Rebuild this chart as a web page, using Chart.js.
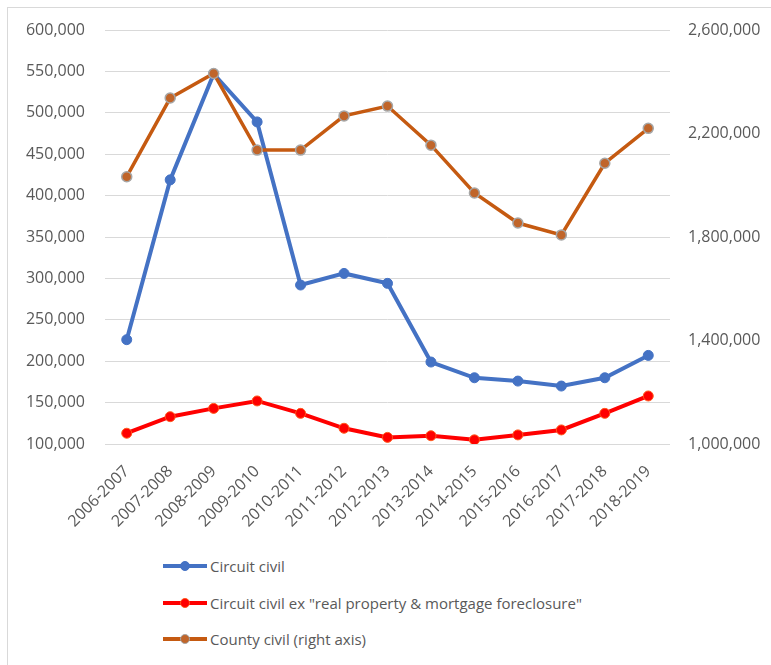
<!DOCTYPE html>
<html>
<head>
<meta charset="utf-8">
<script src="https://cdn.jsdelivr.net/npm/chart.js@4/dist/chart.umd.min.js"></script>
<style>
  html, body { margin: 0; padding: 0; background: #fff; }
  #wrap { position: relative; width: 771px; height: 665px; overflow: hidden; font-family: "Open Sans", sans-serif; }
  #frame { position: absolute; left: 7px; top: 7px; width: 800px; height: 700px; border: 1px solid #d9d9d9; box-sizing: border-box; }
  #c { position: absolute; left: 0; top: 0; }
  #legend { position: absolute; left: 163px; top: 548px; }
  .item { height: 36.5px; display: flex; align-items: center; color: #595959; font-size: 15px; }
  .mk { position: relative; width: 44px; height: 14px; margin-right: 3px; }
  .mk .ln { position: absolute; left: 0; right: 0; top: 5px; height: 4px; }
  .mk .dt { position: absolute; left: 17px; top: 2px; width: 10px; height: 10px; border-radius: 50%; box-sizing: border-box; }
</style>
</head>
<body>
<div id="wrap">
  <div id="frame"></div>
  <canvas id="c" width="771" height="545"></canvas>
  <div id="legend"></div>
</div>
<script>
const categories = ["2006-2007","2007-2008","2008-2009","2009-2010","2010-2011","2011-2012","2012-2013","2013-2014","2014-2015","2015-2016","2016-2017","2017-2018","2018-2019"];
const circuitCivil = [226000, 419000, 547000, 489000, 292000, 306000, 294000, 199000, 180000, 176000, 170000, 180000, 207000];
const circuitCivilEx = [113000, 133000, 143000, 152000, 137000, 119000, 108000, 110000, 105000, 111000, 117000, 137000, 158000];
const countyCivil = [2033000, 2337000, 2432000, 2136000, 2136000, 2268000, 2306000, 2155000, 1970000, 1854000, 1808000, 2085000, 2220000];
const seriesNames = ["Circuit civil", "Circuit civil ex \"real property & mortgage foreclosure\"", "County civil (right axis)"];
const leftTicks = { min: 100000, max: 600000, step: 50000 };
const rightTicks = { min: 1000000, max: 2600000, step: 400000 };

const fmt = v => Number(v).toLocaleString('en-US');
const tickFont = { family: "Open Sans", size: 16 };

const datasets = [
  { label: seriesNames[0], data: circuitCivil, yAxisID: 'y', borderColor: '#4472C4', backgroundColor: '#4472C4',
    pointBorderColor: '#4472C4', borderWidth: 4, pointRadius: 5, pointBorderWidth: 1, order: 2, tension: 0 },
  { label: seriesNames[1], data: circuitCivilEx, yAxisID: 'y', borderColor: '#FF0000', backgroundColor: '#FF0000',
    pointBorderColor: '#FF5A1E', borderWidth: 4, pointRadius: 5, pointBorderWidth: 1, order: 1, tension: 0 },
  { label: seriesNames[2], data: countyCivil, yAxisID: 'y1', borderColor: '#C55A11', backgroundColor: '#C0652A',
    pointBorderColor: '#A6A6A6', borderWidth: 3.5, pointRadius: 5, pointBorderWidth: 1.5, order: 0, tension: 0 }
];

const chart = new Chart(document.getElementById('c'), {
  type: 'line',
  data: { labels: categories, datasets },
  options: {
    responsive: false,
    animation: false,
    devicePixelRatio: 1,
    layout: { padding: { top: 30, left: 25, right: 10, bottom: 10 } },
    plugins: { legend: { display: false }, tooltip: { enabled: false }, title: { display: false } },
    scales: {
      x: {
        offset: true,
        grid: { display: false },
        border: { display: false },
        ticks: { color: '#595959', font: tickFont, maxRotation: 45, minRotation: 45, padding: 10, autoSkip: false },
        afterFit: s => { s.height = 91; }
      },
      y: {
        position: 'left',
        min: leftTicks.min, max: leftTicks.max,
        grid: { color: '#d9d9d9', lineWidth: 1, drawTicks: false },
        border: { display: false },
        ticks: { stepSize: leftTicks.step, color: '#595959', font: tickFont, padding: 20, callback: v => fmt(v) },
        afterFit: s => { s.width = 80; }
      },
      y1: {
        position: 'right',
        min: rightTicks.min, max: rightTicks.max,
        grid: { display: false, drawTicks: false },
        border: { display: false },
        ticks: { stepSize: rightTicks.step, color: '#595959', font: tickFont, padding: 18, callback: v => fmt(v) },
        afterFit: s => { s.width = 91; }
      }
    }
  }
});

const lg = document.getElementById('legend');
datasets.forEach(d => {
  const it = document.createElement('div');
  it.className = 'item';
  it.innerHTML = '<div class="mk"><div class="ln" style="background:' + d.borderColor + '"></div><div class="dt" style="background:' + d.backgroundColor + ';border:1px solid ' + d.pointBorderColor + '"></div></div><span></span>';
  it.querySelector('span').textContent = d.label;
  lg.appendChild(it);
});
</script>
</body>
</html>
